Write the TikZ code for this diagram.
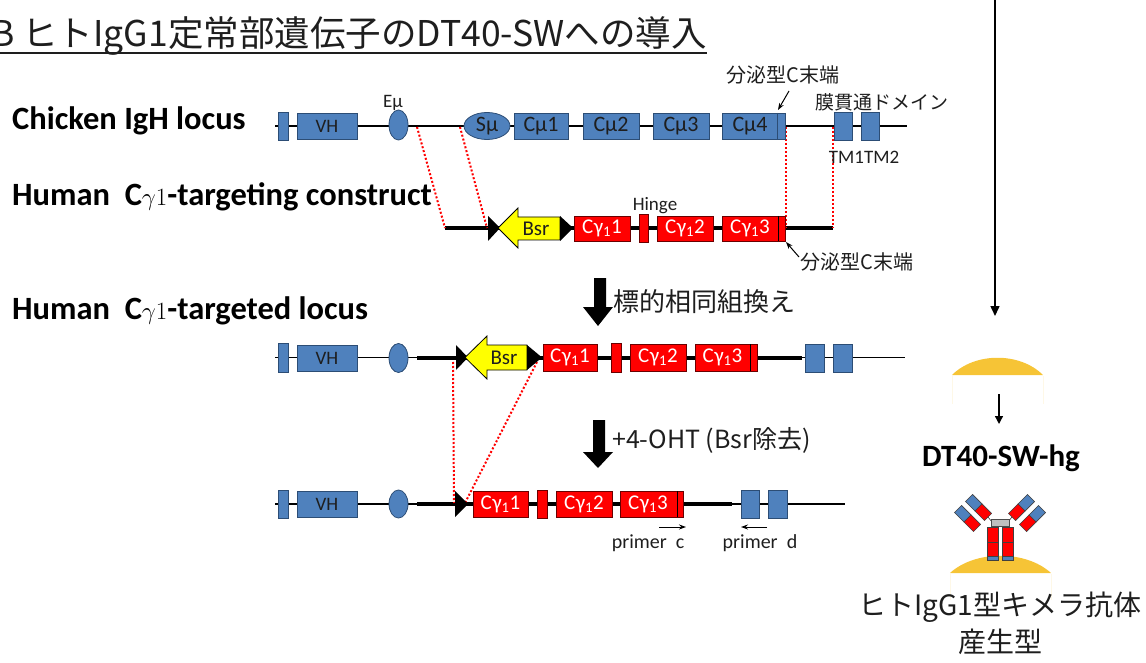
\documentclass[tikz,border=0pt]{standalone}
\usepackage{fontspec}
\setmainfont{Carlito}
\newfontfamily\jp{Noto Sans CJK JP}
\usetikzlibrary{shapes.geometric,arrows.meta,calc}

\definecolor{gblue}{HTML}{4F81BD}
\definecolor{gblueline}{HTML}{2C4D75}
\definecolor{gred}{HTML}{FF0000}
\definecolor{gredline}{HTML}{6A0000}
\definecolor{bsr}{HTML}{FFFF00}
\definecolor{dome}{HTML}{F6C436}
\definecolor{txt}{HTML}{1E1E1E}
\newcommand\fsz[1]{\fontsize{#1}{#1}\selectfont}

% gene box given by its corners: style, name, x1, y1, x2, y2, text
\newcommand\gx[7]{\node[#1, minimum width={#5-#3}, minimum height={#6-#4}] (#2) at ({(#3+#5)/2},{(#4+#6)/2}) {#7};}
% one half of an antibody arm: from, to, fill
\newcommand\abar[3]{\filldraw[fill=#3, draw=black!75, line width=0.6pt]
  ($#1!5pt!90:#2$) -- ($#1!5pt!-90:#2$) -- ($#2!5pt!90:#1$) -- ($#2!5pt!-90:#1$) -- cycle;}
\newcommand\cgl[1]{C\kern0.5pt γ\textsubscript{1}#1}

\tikzset{
  thinline/.style={line width=1.5pt, black},
  thickline/.style={line width=4pt, black},
  homol/.style={red, line width=2pt, dash pattern=on 2pt off 2pt},
  gene/.style={draw=gblueline, fill=gblue, line width=0.8pt, inner sep=0pt, text=txt, font=\fsz{22}},
  cg/.style={draw=gredline, fill=gred, line width=0.8pt, inner sep=0pt, text=white, font=\fsz{21}},
  enh/.style={ellipse, draw=gblueline, fill=gblue, line width=0.8pt, inner sep=0pt, text=txt, font=\fsz{22}},
  bsrarrow/.style={fill=bsr, draw=black, line width=0.8pt},
  lbl/.style={inner sep=0pt, text=txt},
  rowlbl/.style={inner sep=0pt, anchor=west, font=\bfseries\fsz{32.5}, text=black},
  small arrow/.style={line width=1pt, -{Stealth[length=7pt,width=5pt]}},
  bigarrow/.style={fill=black},
}

\begin{document}
\begin{tikzpicture}[x=1pt,y=-1pt]
\useasboundingbox (0,0) rectangle (1146,663);

% heading
\node[anchor=base west, inner sep=0pt, font=\jp\fsz{35.5}, text=txt] (title) at (-9,47)
  {B ヒトIgG1定常部遺伝子のDT40-SWへの導入};
\draw[line width=2pt, txt] (0,53) -- (title.base east |- 0,53);

% row labels
\node[rowlbl] (lab1) at (12,121) {Chicken IgH locus};
\node[rowlbl] (lab2) at (12,197) {Human\ \ C$\gamma 1$-targeting construct};
\node[rowlbl] (lab3) at (12,311) {Human\ \ C$\gamma 1$-targeted locus};

% ---------- chicken IgH locus ----------
\draw[thinline] (275,126) -- (907,126);
\coordinate (h1a) at (417,127);
\coordinate (h1b) at (460,127);
\coordinate (h1c) at (786,127);
\coordinate (h1d) at (833,127);

% ---------- targeting construct ----------
\draw[thickline] (445,228) -- (833,228);
\coordinate (h2a) at (445,228);
\coordinate (h2b) at (487,228);
\coordinate (h2c) at (786,228);
\coordinate (h2d) at (833,228);

% ---------- targeted locus ----------
\draw[thinline] (275,357.5) -- (417,357.5);
\draw[thickline] (417,357.5) -- (802,357.5);
\draw[thinline] (802,357.5) -- (905,357.5);
\coordinate (h3a) at (453,362);
\coordinate (h3b) at (537,362);

% ---------- after Bsr removal ----------
\draw[thinline] (275,504) -- (417,504);
\draw[thickline] (417,504) -- (732,504);
\draw[thinline] (732,504) -- (845,504);
\coordinate (h4a) at (454,503);
\coordinate (h4b) at (465,503);

% homology arms
\draw[homol] (h1a) -- (h2a);
\draw[homol] (h1b) -- (h2b);
\draw[homol] (h1c) -- (h2c);
\draw[homol] (h1d) -- (h2d);
\draw[homol] (h3a) -- (h4a);
\draw[homol] (h3b) -- (h4b);

% row 1 elements
\gx{gene}{r1s}{278}{112}{288}{140}{}
\gx{gene}{r1vh}{297}{113}{357}{139}{\fsz{19}VH}
\node[enh, minimum width=19, minimum height=30] (r1e) at (398.5,125) {};
\node[lbl, font=\fsz{19}] (emu) at (393,103) {Eµ};
\node[enh, minimum width=46, minimum height=27] (smu) at (487,126) {Sµ};
\gx{gene}{cm1}{514}{113}{568}{139}{Cµ1}
\gx{gene}{cm2}{583}{113}{639}{139}{Cµ2}
\gx{gene}{cm3}{653}{113}{709}{139}{Cµ3}
\gx{gene}{cm4}{722}{113}{785}{139}{\hspace*{-7pt}Cµ4}
\draw[gblueline, line width=1pt] (777,113) -- (777,139);
\gx{gene}{tm1}{834}{112}{852}{140}{}
\gx{gene}{tm2}{861}{112}{879}{140}{}
\node[lbl, font=\jp\fsz{20}] (sec1) at (783,75) {分泌型C末端};
\node[lbl, font=\jp\fsz{19}] (tmd) at (882,102) {膜貫通ドメイン};
\node[lbl, font=\fsz{19}] (tml) at (864,157) {TM1TM2};
\coordinate (sec1end) at (778,110);
\draw[small arrow] (789,91) -- (sec1end);

% row 2 elements
\fill (488,216) -- (500,228) -- (488,241) -- cycle;
\filldraw[bsrarrow] (498,228) -- (518,208) -- (518,217) -- (560,217) -- (560,240) -- (518,240) -- (518,248) -- cycle;
\node[lbl, font=\fsz{21}] (bsr2) at (536,229) {Bsr};
\fill (560,216) -- (573,228) -- (560,241) -- cycle;
\gx{cg}{g21}{574}{216}{630}{241}{\cgl{1}}
\gx{cg}{hg2}{639}{214}{648}{242}{}
\gx{cg}{g22}{657}{216}{713}{241}{\cgl{2}}
\gx{cg}{g23}{722}{216}{785}{241}{\hspace*{-7pt}\cgl{3}}
\draw[black, line width=1pt] (778,216) -- (778,241);
\node[lbl, font=\fsz{19}] (hinge) at (655,206) {Hinge};
\node[lbl, font=\jp\fsz{20}] (sec2) at (857,262) {分泌型C末端};
\coordinate (sec2end) at (786,242);
\draw[small arrow] (799,257) -- (sec2end);

% recombination arrow
\fill[bigarrow] (594,278) -- (606,278) -- (606,307) -- (613,307) -- (598,326) -- (583,307) -- (594,307) -- cycle;
\node[lbl, anchor=west, font=\jp\fsz{26}] (hr) at (613,302) {標的相同組換え};

% row 3 elements
\gx{gene}{r3s}{278}{343}{288}{372}{}
\gx{gene}{r3vh}{297}{345}{357}{371}{\fsz{19}VH}
\node[enh, minimum width=19, minimum height=29] (r3e) at (398.5,358) {};
\fill (456,345) -- (468,357.5) -- (456,370) -- cycle;
\filldraw[bsrarrow] (465,357.5) -- (487,336) -- (487,345) -- (527,345) -- (527,370) -- (487,370) -- (487,379) -- cycle;
\node[lbl, font=\fsz{21}] (bsr3) at (504,358) {Bsr};
\fill (527,345) -- (542,357.5) -- (527,370) -- cycle;
\gx{cg}{g31}{543}{344}{597}{371}{\cgl{1}}
\gx{cg}{hg3}{611}{343}{621}{372}{}
\gx{cg}{g32}{630}{344}{686}{371}{\cgl{2}}
\gx{cg}{g33}{695}{344}{757}{371}{\hspace*{-7pt}\cgl{3}}
\draw[black, line width=1pt] (750,344) -- (750,371);
\gx{gene}{r3t1}{805}{344}{824}{372}{}
\gx{gene}{r3t2}{833}{344}{852}{372}{}

% excision arrow
\fill[bigarrow] (593,420) -- (605,420) -- (605,452) -- (613,452) -- (598,468) -- (583,452) -- (593,452) -- cycle;
\node[lbl, anchor=west, font=\jp\fsz{25}] (oht) at (612,440) {+4-OHT (Bsr除去)};

% row 4 elements
\gx{gene}{r4s}{278}{490}{288}{518}{}
\gx{gene}{r4vh}{297}{491}{357}{517}{\fsz{19}VH}
\node[enh, minimum width=19, minimum height=28] (r4e) at (398.5,504) {};
\fill (455,491) -- (468,504) -- (455,517) -- cycle;
\gx{cg}{g41}{473}{491}{528}{517}{\cgl{1}}
\gx{cg}{hg4}{537}{490}{547}{518}{}
\gx{cg}{g42}{556}{491}{612}{517}{\cgl{2}}
\gx{cg}{g43}{620}{491}{683}{517}{\hspace*{-7pt}\cgl{3}}
\draw[black, line width=1pt] (677,491) -- (677,517);
\gx{gene}{r4t1}{741}{490}{759}{518}{}
\gx{gene}{r4t2}{768}{490}{787}{518}{}

% primers
\coordinate (pc1) at (659,527); \coordinate (pc2) at (686,527);
\coordinate (pd1) at (767,527); \coordinate (pd2) at (741,527);
\draw[small arrow] (pc1) -- (pc2);
\draw[small arrow] (pd1) -- (pd2);
\node[lbl, font=\fsz{20}] (prc) at (648,543) {primer\ \ c};
\node[lbl, font=\fsz{20}] (prd) at (760,543) {primer\ \ d};

% ---------- right column ----------
\coordinate (flowtop) at (995,-5);
\coordinate (flowend) at (995,316);
\draw[line width=1.5pt, -{Triangle[length=10pt,width=9pt]}] (flowtop) -- (flowend);

\fill[dome] (952,375) .. controls (975,352) and (1020,352) .. (1043,375) -- cycle;
\draw[line width=0.6pt, dome!12] (952,376) -- (952,404) (1043,376) -- (1043,404);
\coordinate (c1) at (999,394); \coordinate (c2) at (999,424);
\draw[line width=1.3pt, -{Triangle[length=8pt,width=8pt]}] (c1) -- (c2);

\node[lbl, font=\bfseries\fsz{31}, text=black] (hg) at (1001,458) {DT40-SW-hg};

% antibody on the cell surface
\fill[dome] (950,573) .. controls (975,550) and (1026,550) .. (1051,573) -- cycle;
\draw[line width=0.6pt, dome!12] (950,574) -- (950,600) (1051,574) -- (1051,600);
\draw[black!75, line width=0.6pt] (988,517) -- (992,522) (1012,517) -- (1008,522);
\filldraw[fill=black!25, draw=black!70, line width=0.6pt] (991,519) rectangle (1009,526);
\foreach \sx in {987,1002}{
  \filldraw[fill=gred, draw=black!75, line width=0.6pt] (\sx,527) rectangle ++(11,33);
  \draw[black!75, line width=0.8pt] (\sx,542) -- ++(11,0);
  \filldraw[fill=gblue, draw=black!75, line width=0.6pt] (\sx,556) rectangle ++(11,4);
}
% left arm
\abar{(969,498)}{(978.5,507.5)}{gblue}
\abar{(978.5,507.5)}{(988,517)}{gred}
\abar{(958,509)}{(967.5,518.5)}{gblue}
\abar{(967.5,518.5)}{(977,528)}{gred}
% right arm
\abar{(1031,498)}{(1021.5,507.5)}{gblue}
\abar{(1021.5,507.5)}{(1012,517)}{gred}
\abar{(1042,509)}{(1032.5,518.5)}{gblue}
\abar{(1032.5,518.5)}{(1023,528)}{gred}

\node[lbl, font=\jp\fsz{28}] (chim) at (1000,607) {ヒトIgG1型キメラ抗体};
\node[lbl, font=\jp\fsz{28}] (prod) at (1000,642) {産生型};
\end{tikzpicture}
\end{document}
